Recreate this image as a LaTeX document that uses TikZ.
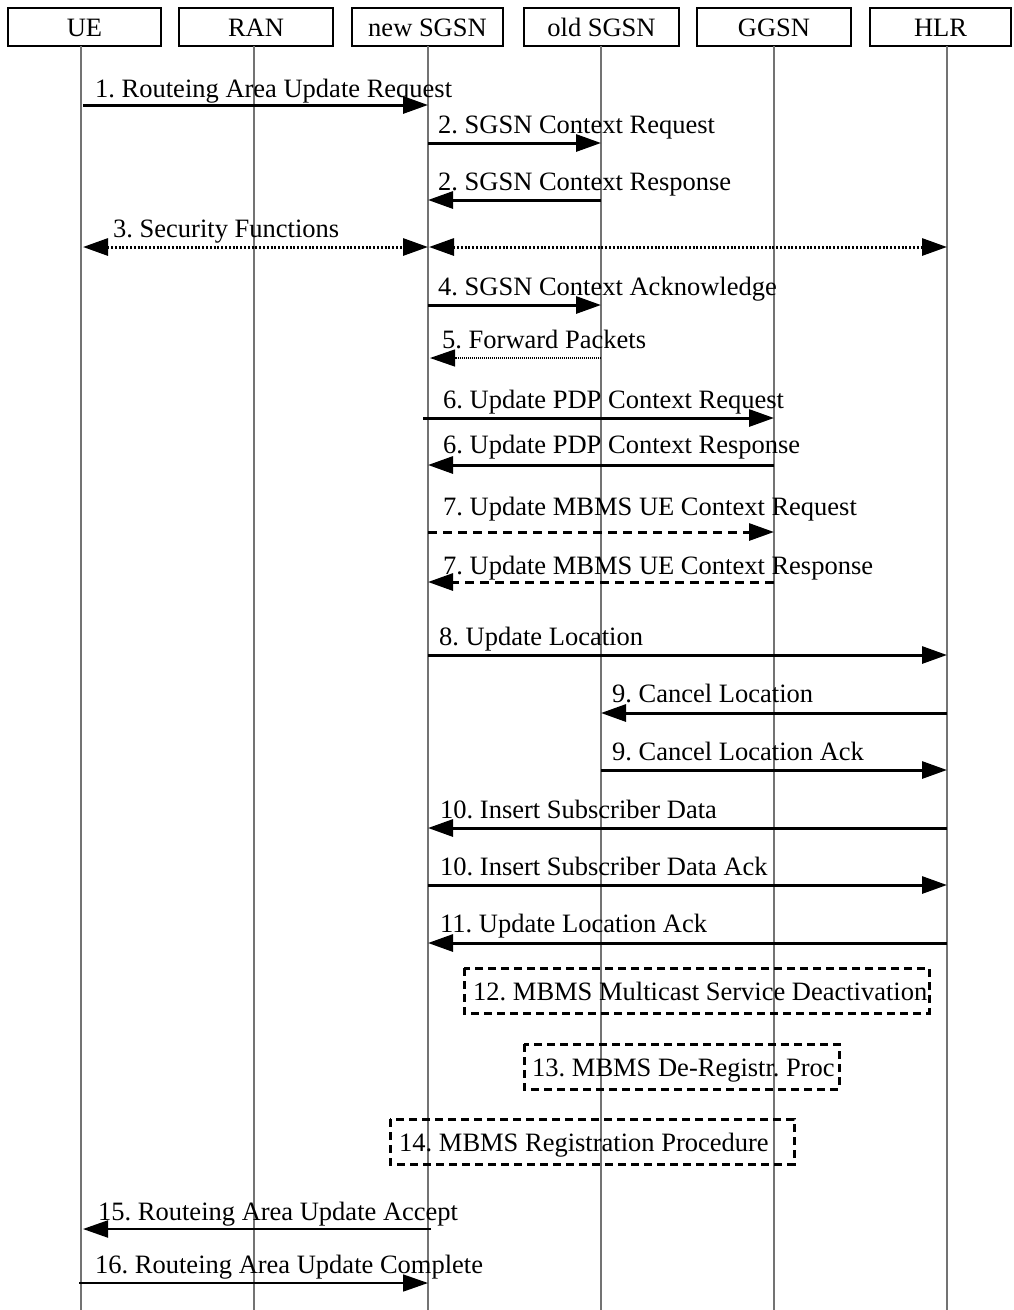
\documentclass[tikz,border=0pt]{standalone}
\usepackage{fontspec}
\setmainfont{Liberation Serif}
\usetikzlibrary{arrows.meta}
\frenchspacing
\begin{document}
\begin{tikzpicture}[x=1pt,y=-1pt,
  every node/.style={font=\fontsize{26.5}{30}\selectfont\frenchspacing, inner sep=0pt},
  hdr/.style={draw, line width=1.3pt, minimum height=38pt, text height=20pt, text depth=2pt, anchor=center},
  life/.style={draw=black!55, line width=1.2pt},
  tip/.style={-{Triangle[length=25pt,width=17pt]}},
  msg/.style={tip, line width=3pt},
  msgthin/.style={tip, line width=2pt},
  dotmsg/.style={line width=3pt, dash pattern=on 2pt off 1.8pt},
  dotthin/.style={tip, line width=1.3pt, dash pattern=on 1pt off 1pt},
  dashmsg/.style={tip, line width=3pt, dash pattern=on 9pt off 6pt},
  procbox/.style={draw, line width=3pt, dash pattern=on 8pt off 5pt},
  lbl/.style={anchor=base west}
]
\useasboundingbox (0,0) rectangle (1013,1310);
% header boxes
\node[hdr, minimum width=153pt] (ue)  at (84.5,27) {UE};
\node[hdr, minimum width=154pt] (ran) at (256,27) {RAN};
\node[hdr, minimum width=151pt] (ns)  at (427.5,27) {new SGSN};
\node[hdr, minimum width=155pt] (os)  at (601.5,27) {old SGSN};
\node[hdr, minimum width=154pt] (gg)  at (774,27) {GGSN};
\node[hdr, minimum width=141pt] (hlr) at (940.5,27) {HLR};
% lifeline tops
\coordinate (lue) at (81,46);
\coordinate (lran) at (254,46);
\coordinate (lns) at (428,46);
\coordinate (los) at (601,46);
\coordinate (lgg) at (774,46);
\coordinate (lhlr) at (947,46);
\coordinate (bottom) at (0,1310);
\foreach \l in {lue,lran,lns,los,lgg,lhlr}
  \draw[life] (\l) -- (\l |- bottom);
% message rows
\coordinate (m1) at (0,105);
\coordinate (m2a) at (0,143);
\coordinate (m2b) at (0,200);
\coordinate (m3) at (0,247);
\coordinate (m4) at (0,305);
\coordinate (m5) at (0,358);
\coordinate (m6a) at (0,418);
\coordinate (m6b) at (0,465);
\coordinate (m7a) at (0,532);
\coordinate (m7b) at (0,582);
\coordinate (m8) at (0,655);
\coordinate (m9a) at (0,713);
\coordinate (m9b) at (0,770);
\coordinate (m10a) at (0,828);
\coordinate (m10b) at (0,885);
\coordinate (m11) at (0,943);
\coordinate (m15) at (0,1229);
\coordinate (m16) at (0,1283);
% 1
\draw[msg] ([xshift=2pt]lue |- m1) -- (lns |- m1);
\node[lbl] (t1) at (95,97) {1. Routeing Area Update Request};
% 2
\draw[msg] (lns |- m2a) -- (los |- m2a);
\node[lbl] (t2a) at (438,133) {2. SGSN Context Request};
\draw[msg] (los |- m2b) -- (lns |- m2b);
\node[lbl] (t2b) at (438,190) {2. SGSN Context Response};
% 3
\draw[dotmsg, {Triangle[length=25pt,width=17pt]}-{Triangle[length=25pt,width=17pt]}] ([xshift=2pt]lue |- m3) -- (lns |- m3);
\draw[dotmsg, {Triangle[length=25pt,width=17pt]}-{Triangle[length=25pt,width=17pt]}] ([xshift=1pt]lns |- m3) -- (lhlr |- m3);
\node[lbl] (t3) at (113,237) {3. Security Functions};
% 4
\draw[msg] (lns |- m4) -- (los |- m4);
\node[lbl] (t4) at (438,295) {4. SGSN Context Acknowledge};
% 5
\draw[dotthin] (los |- m5) -- ([xshift=2pt]lns |- m5);
\node[lbl] (t5) at (442,348) {5. Forward Packets};
% 6
\draw[msg] ([xshift=-5pt]lns |- m6a) -- (lgg |- m6a);
\node[lbl] (t6a) at (443,408) {6. Update PDP Context Request};
\draw[msg] (lgg |- m6b) -- (lns |- m6b);
\node[lbl] (t6b) at (443,453) {6. Update PDP Context Response};
% 7
\draw[dashmsg] (lns |- m7a) -- (lgg |- m7a);
\node[lbl] (t7a) at (443,515) {7. Update MBMS UE Context Request};
\draw[dashmsg] (lgg |- m7b) -- (lns |- m7b);
\node[lbl] (t7b) at (443,574) {7. Update MBMS UE Context Response};
% 8
\draw[msg] (lns |- m8) -- (lhlr |- m8);
\node[lbl] (t8) at (439,645) {8. Update Location};
% 9
\draw[msg] (lhlr |- m9a) -- (los |- m9a);
\node[lbl] (t9a) at (612,702) {9. Cancel Location};
\draw[msg] (los |- m9b) -- (lhlr |- m9b);
\node[lbl] (t9b) at (612,760) {9. Cancel Location Ack};
% 10
\draw[msg] (lhlr |- m10a) -- (lns |- m10a);
\node[lbl] (t10a) at (440,818) {10. Insert Subscriber Data};
\draw[msg] (lns |- m10b) -- (lhlr |- m10b);
\node[lbl] (t10b) at (440,875) {10. Insert Subscriber Data Ack};
% 11
\draw[msg] (lhlr |- m11) -- (lns |- m11);
\node[lbl] (t11) at (440,932) {11. Update Location Ack};
% procedure boxes
\draw[procbox] (464,968) rectangle (929,1013);
\node[lbl] (b12) at (473,1000) {12. MBMS Multicast Service Deactivation};
\draw[procbox] (524,1044) rectangle (839,1089);
\node[lbl] (b13) at (532,1076) {13. MBMS De-Registr. Proc};
\draw[procbox] (390,1119) rectangle (794,1164);
\node[lbl] (b14) at (399,1151) {14. MBMS Registration Procedure};
% 15, 16
\draw[msgthin] ([xshift=3pt]lns |- m15) -- ([xshift=2pt]lue |- m15);
\node[lbl] (t15) at (98,1220) {15. Routeing Area Update Accept};
\draw[msgthin, line width=1.6pt] ([xshift=-2pt]lue |- m16) -- (lns |- m16);
\node[lbl] (t16) at (95,1273) {16. Routeing Area Update Complete};
\end{tikzpicture}
\end{document}
